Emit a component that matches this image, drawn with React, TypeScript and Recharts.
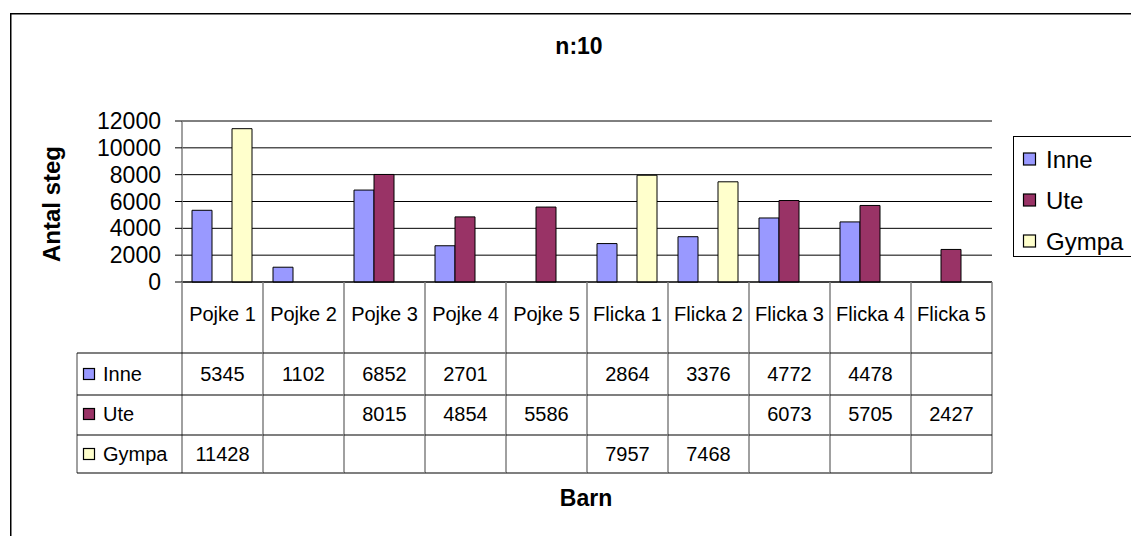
import { BarChart, Bar, XAxis, YAxis, CartesianGrid } from 'recharts'

// steps per child, split by where they were taken
const barn = ['Pojke 1', 'Pojke 2', 'Pojke 3', 'Pojke 4', 'Pojke 5', 'Flicka 1', 'Flicka 2', 'Flicka 3', 'Flicka 4', 'Flicka 5']
const inne = [5345, 1102, 6852, 2701, null, 2864, 3376, 4772, 4478, null]
const ute = [null, null, 8015, 4854, 5586, null, null, 6073, 5705, 2427]
const gympa = [11428, null, null, null, null, 7957, 7468, null, null, null]
const yTicks = [0, 2000, 4000, 6000, 8000, 10000, 12000]

const series = [
  { key: 'inne', name: 'Inne', color: '#9999FF', values: inne },
  { key: 'ute', name: 'Ute', color: '#993366', values: ute },
  { key: 'gympa', name: 'Gympa', color: '#FFFFCC', values: gympa },
]

const data = barn.map((b, i) => ({ barn: b, inne: inne[i], ute: ute[i], gympa: gympa[i] }))

const W = 1131
const H = 536
const FONT = '"Liberation Sans", Arial, sans-serif'
const PLOT_LEFT = 182
const PLOT_RIGHT = 992
const BAND = (PLOT_RIGHT - PLOT_LEFT) / barn.length
const TABLE_LEFT = 77
const GRAY = '#808080'

// x axis tick = one column of the data table under the plot
function TableTick(props: any) {
  const { x, y, payload } = props
  const i = payload.index
  const l = x - BAND / 2
  const r = x + BAND / 2
  const rows = [y + 71, y + 113, y + 153, y + 191]
  const textY = [y + 92, y + 132, y + 172]
  return (
    <g fontFamily={FONT}>
      <line x1={l} x2={l} y1={y} y2={rows[3]} stroke={GRAY} strokeWidth={1.5} />
      {i === barn.length - 1 && <line x1={r} x2={r} y1={y} y2={rows[3]} stroke={GRAY} strokeWidth={1.5} />}
      <text x={x} y={y + 32} textAnchor="middle" dominantBaseline="central" fontSize={20} fill="#000">
        {payload.value}
      </text>
      {rows.map((ry, k) => (
        <line key={k} x1={l} x2={r} y1={ry} y2={ry} stroke="#000" strokeWidth={1.2} />
      ))}
      {series.map((s, k) => (
        <text key={s.key} x={x} y={textY[k]} textAnchor="middle" dominantBaseline="central" fontSize={20} fill="#000">
          {s.values[i] ?? ''}
        </text>
      ))}
      {i === 0 && (
        <g>
          <line x1={TABLE_LEFT} x2={TABLE_LEFT} y1={rows[0]} y2={rows[3]} stroke={GRAY} strokeWidth={1.5} />
          {rows.map((ry, k) => (
            <line key={k} x1={TABLE_LEFT} x2={l} y1={ry} y2={ry} stroke="#000" strokeWidth={1.2} />
          ))}
          {series.map((s, k) => (
            <g key={s.key}>
              <rect x={TABLE_LEFT + 6.5} y={textY[k] - 5.5} width={11} height={11} fill={s.color} stroke="#000" strokeWidth={1.2} />
              <text x={TABLE_LEFT + 26} y={textY[k]} dominantBaseline="central" fontSize={20} fill="#000">
                {s.name}
              </text>
            </g>
          ))}
        </g>
      )}
    </g>
  )
}

function SideLegend() {
  const ys = [159, 200, 241]
  return (
    <g fontFamily={FONT}>
      <rect x={1013.5} y={136.5} width={140} height={120} fill="#fff" stroke="#000" strokeWidth={1} />
      {series.map((s, k) => (
        <g key={s.key}>
          <rect x={1023.5} y={ys[k] - 6} width={12} height={12} fill={s.color} stroke="#000" strokeWidth={1.2} />
          <text x={1046} y={ys[k]} dominantBaseline="central" fontSize={24} fill="#000">
            {s.name}
          </text>
        </g>
      ))}
    </g>
  )
}

export default function App() {
  return (
    <div style={{ position: 'absolute', left: 0, top: 0, width: W, height: H, background: '#fff' }}>
      <BarChart
        width={W}
        height={H}
        data={data}
        margin={{ top: 121, left: 82, right: W - PLOT_RIGHT, bottom: 62 }}
        barCategoryGap={10}
        barGap={0}
      >
        <rect x={10.75} y={13.75} width={1140} height={540} fill="none" stroke="#000" strokeWidth={1.5} />
        <CartesianGrid vertical={false} stroke="#000" strokeWidth={1} />
        <XAxis
          dataKey="barn"
          interval={0}
          tickSize={0}
          tickMargin={0}
          height={192}
          axisLine={{ stroke: '#000', strokeWidth: 1.2 }}
          tickLine={false}
          tick={<TableTick />}
        />
        <YAxis
          width={100}
          domain={[0, 12000]}
          ticks={yTicks}
          interval={0}
          tickSize={7}
          tickMargin={14}
          axisLine={{ stroke: GRAY, strokeWidth: 1.5 }}
          tickLine={{ stroke: '#000' }}
          tick={{ fill: '#000', fontSize: 23, fontFamily: FONT }}
        />
        {series.map(s => (
          <Bar key={s.key} dataKey={s.key} name={s.name} fill={s.color} stroke="#000" strokeWidth={1} isAnimationActive={false} />
        ))}
        <text x={579} y={46} textAnchor="middle" dominantBaseline="central" fontSize={23} fontWeight="bold" fontFamily={FONT}>
          n:10
        </text>
        <text
          x={51}
          y={204}
          transform="rotate(-90 51 204)"
          textAnchor="middle"
          dominantBaseline="central"
          fontSize={24}
          fontWeight="bold"
          fontFamily={FONT}
        >
          Antal steg
        </text>
        <text x={586} y={498} textAnchor="middle" dominantBaseline="central" fontSize={23} fontWeight="bold" fontFamily={FONT}>
          Barn
        </text>
        <SideLegend />
      </BarChart>
    </div>
  )
}
